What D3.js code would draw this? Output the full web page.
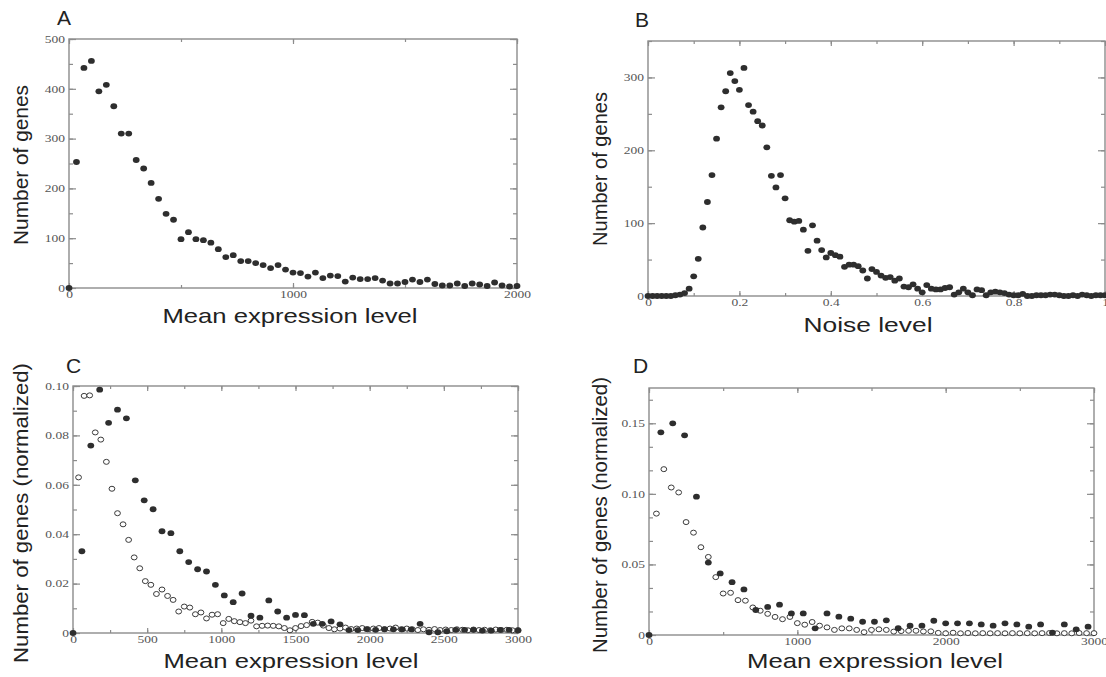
<!DOCTYPE html>
<html>
<head>
<meta charset="utf-8">
<script src="https://cdn.jsdelivr.net/npm/d3@7"></script>
<style>
body { margin: 0; background: #fff; }
svg { display: block; font-family: "Liberation Sans", Arial, sans-serif; }
.tick text { font-family: "Liberation Serif", "Times New Roman", serif; font-size: 10px; fill: #555; }
.tick line { stroke: #8c8c8c; stroke-width: 1.2; }
</style>
</head>
<body>
<div id="chart"></div>
<script>

// ---- panel A : mean expression, bins of 2000/60
const aStep = 2000 / 60;
const aCounts = [0, 253, 442, 456, 395, 408, 365, 310, 310, 257,
                 240, 211, 179, 149, 137, 98, 112, 98, 96, 91,
                 78, 62, 66, 54, 54, 50, 46, 40, 46, 37,
                 31, 30, 23, 31, 20, 25, 24, 13, 21, 18,
                 18, 20, 15, 9, 9, 12, 17, 12, 17, 8,
                 5, 5, 9, 4, 9, 7, 4, 11, 5, 3, 4];
const aXTicks = [0, 1000, 2000];
const aXLabels = ["0", "1000", "2000"];
const aYTicks = [0, 100, 200, 300, 400, 500];
const aYLabels = ["0", "100", "200", "300", "400", "500"];

// ---- panel B : noise level, bins of 0.01
const bStep = 0.01;
const bCounts = [0, 0, 0, 0, 0, 0, 1, 2, 4, 10,
                 27, 51, 94, 129, 166, 216, 259, 281, 306, 295,
                 283, 313, 262, 253, 240, 234, 204, 165, 149, 166,
                 134, 104, 102, 103, 91, 62, 97, 76, 63, 53,
                 59, 56, 54, 40, 43, 43, 41, 35, 24, 37,
                 33, 28, 25, 26, 21, 24, 13, 12, 16, 10,
                 5, 15, 10, 9, 9, 11, 12, 2, 5, 10,
                 5, 1, 9, 8, 1, 5, 6, 5, 4, 2,
                 1, 1, 3, 0, 0, 1, 1, 1, 2, 2,
                 1, 0, 0, 1, 0, 2, 1, 0, 1, 1, 1];
const bXTicks = [0, 0.2, 0.4, 0.6, 0.8, 1];
const bXLabels = ["0", "0.2", "0.4", "0.6", "0.8", "1"];
const bYTicks = [0, 100, 200, 300];
const bYLabels = ["0", "100", "200", "300"];

// ---- panel C : normalized, two groups
const cFilledStep = 60;
const cFilled = [0, 0.0331, 0.0759, 0.0985, 0.0851, 0.0904, 0.0869, 0.0618, 0.0537, 0.0501,
                 0.0412, 0.0404, 0.0331, 0.0287, 0.0258, 0.0249, 0.0195, 0.0152, 0.0125, 0.016,
                 0.007, 0.0062, 0.0132, 0.0087, 0.0062, 0.0073, 0.0072, 0.0037, 0.0037, 0.0047,
                 0.0035, 0.0012, 0.0012, 0.0016, 0.0013, 0.0015, 0.0015, 0.0015, 0.0015, 0.0037,
                 0.0003, 0.0003, 0.0007, 0.0013, 0.0013, 0.0013, 0.001, 0.001, 0.0013, 0.0013, 0.001];
const cOpenStep = 37.5;   // first open point sits at one step
const cOpen = [0.063, 0.096, 0.0962, 0.0812, 0.0783, 0.0693, 0.0584, 0.0485, 0.044, 0.0377,
               0.0306, 0.0262, 0.021, 0.0195, 0.0158, 0.0176, 0.015, 0.0134, 0.0087, 0.0107,
               0.0103, 0.0076, 0.0083, 0.0059, 0.0074, 0.0076, 0.004, 0.0057, 0.0048, 0.0044,
               0.004, 0.005, 0.0027, 0.0029, 0.003, 0.0029, 0.0027, 0.002, 0.0011, 0.002,
               0.0028, 0.0032, 0.0045, 0.0042, 0.003, 0.002, 0.0015, 0.0018, 0.0022, 0.0016,
               0.0018, 0.002, 0.0015, 0.0018, 0.002, 0.0016, 0.0018, 0.0022, 0.0015, 0.0018,
               0.0015, 0.0012, 0.0015, 0.0013, 0.0016, 0.0012, 0.0014, 0.0012, 0.0015, 0.0013,
               0.0011, 0.0014, 0.0012, 0.0013, 0.0011, 0.0014, 0.0012, 0.0013, 0.0011, 0.0012];
const cXTicks = [0, 500, 1000, 1500, 2000, 2500, 3000];
const cXLabels = ["0", "500", "1000", "1500", "2000", "2500", "3000"];
const cYTicks = [0, 0.02, 0.04, 0.06, 0.08, 0.1];
const cYLabels = ["0", "0.02", "0.04", "0.06", "0.08", "0.10"];

// ---- panel D : normalized, two groups
const dFilledStep = 80;
const dFilled = [0, 0.1436, 0.150, 0.1415, 0.098, 0.0513, 0.0436, 0.0374, 0.0323, 0.0177,
                 0.0199, 0.0215, 0.0153, 0.0153, 0.0047, 0.0153, 0.013, 0.0116, 0.0094, 0.0094,
                 0.0104, 0.0048, 0.0066, 0.0066, 0.0101, 0.0083, 0.0083, 0.0083, 0.0075, 0.0066,
                 0.0083, 0.0075, 0.0059, 0.0075, 0.0016, 0.0075, 0.004, 0.0059];
const dOpenStep = 50;
const dOpen = [0.086, 0.1175, 0.1045, 0.101, 0.080, 0.0725, 0.0622, 0.0553, 0.041, 0.0294,
               0.0299, 0.0247, 0.0243, 0.0195, 0.0172, 0.015, 0.0128, 0.0112, 0.0128, 0.0084,
               0.0073, 0.0092, 0.0066, 0.0054, 0.0036, 0.0047, 0.0047, 0.0036, 0.002, 0.0036,
               0.004, 0.0036, 0.0024, 0.0028, 0.003, 0.003, 0.0025, 0.0026, 0.0015, 0.0012,
               0.0016, 0.0012, 0.0014, 0.0012, 0.0013, 0.0012, 0.0013, 0.0012, 0.0013, 0.0012,
               0.0013, 0.0012, 0.0013, 0.0014, 0.0012, 0.0013, 0.0012, 0.0014, 0.0013, 0.0013];
const dXTicks = [0, 1000, 2000, 3000];
const dXLabels = ["0", "1000", "2000", "3000"];
const dYTicks = [0, 0.05, 0.1, 0.15];
const dYLabels = ["0", "0.05", "0.10", "0.15"];


const svg = d3.select('#chart')
  .append('svg')
  .attr('width', 1106)
  .attr('height', 677);

function noDomain(sel) { sel.select('.domain').remove(); }

function drawPanel(p) {
  const x = d3.scaleLinear().domain(p.xDomain).range([p.left, p.right]);
  const y = d3.scaleLinear().domain(p.yDomain).range([p.bottom, p.top]);
  const g = svg.append('g');

  // minor ticks, all four sides, pointing inward
  g.append('g').attr('transform', `translate(0,${p.bottom})`)
    .call(d3.axisBottom(x).tickValues(p.xMinor).tickSize(-3).tickFormat('')).call(noDomain);
  g.append('g').attr('transform', `translate(0,${p.top})`)
    .call(d3.axisTop(x).tickValues(p.xMinor).tickSize(-3).tickFormat('')).call(noDomain);
  g.append('g').attr('transform', `translate(${p.left},0)`)
    .call(d3.axisLeft(y).tickValues(p.yMinor).tickSize(-4).tickFormat('')).call(noDomain);
  g.append('g').attr('transform', `translate(${p.right},0)`)
    .call(d3.axisRight(y).tickValues(p.yMinor).tickSize(-4).tickFormat('')).call(noDomain);

  // major ticks, labels only bottom and left
  g.append('g').attr('transform', `translate(0,${p.bottom})`)
    .call(d3.axisBottom(x).tickValues(p.xTicks).tickSize(-5).tickPadding(3)
      .tickFormat((d, i) => p.xLabels[i])).call(noDomain);
  g.append('g').attr('transform', `translate(0,${p.top})`)
    .call(d3.axisTop(x).tickValues(p.xTicks).tickSize(-5).tickFormat('')).call(noDomain);
  g.append('g').attr('transform', `translate(${p.left},0)`)
    .call(d3.axisLeft(y).tickValues(p.yTicks).tickSize(-7).tickPadding(4)
      .tickFormat((d, i) => p.yLabels[i])).call(noDomain);
  g.append('g').attr('transform', `translate(${p.right},0)`)
    .call(d3.axisRight(y).tickValues(p.yTicks).tickSize(-7).tickFormat('')).call(noDomain);

  // frame
  g.append('rect')
    .attr('x', p.left).attr('y', p.top)
    .attr('width', p.right - p.left).attr('height', p.bottom - p.top)
    .attr('fill', 'none').attr('stroke', '#8c8c8c').attr('stroke-width', 1.4);

  // points (open ones first, filled on top)
  p.series.forEach(s => {
    g.append('g').selectAll('ellipse')
      .data(s.values)
      .join('ellipse')
      .attr('cx', (d, i) => x((i + s.start) * s.step))
      .attr('cy', d => y(d))
      .attr('rx', s.open ? 2.9 : 3.4)
      .attr('ry', s.open ? 2.5 : 2.9)
      .attr('fill', s.open ? '#fff' : '#2e2e2e')
      .attr('stroke', s.open ? '#3a3a3a' : 'none')
      .attr('stroke-width', 1);
  });

  // titles
  g.append('text')
    .attr('x', p.letter[0]).attr('y', p.letter[1])
    .style('font-size', '21px').attr('fill', '#222')
    .text(p.name);

  g.append('text')
    .attr('x', p.xTitlePos[0]).attr('y', p.xTitlePos[1])
    .attr('text-anchor', 'middle')
    .attr('textLength', p.xTitleLen).attr('lengthAdjust', 'spacingAndGlyphs')
    .style('font-size', '21px').attr('fill', '#222')
    .text(p.xTitle);

  g.append('text')
    .attr('transform', `translate(${p.yTitlePos[0]},${p.yTitlePos[1]}) rotate(-90)`)
    .attr('text-anchor', 'middle')
    .attr('textLength', p.yTitleLen).attr('lengthAdjust', 'spacingAndGlyphs')
    .style('font-size', '21px').attr('fill', '#222')
    .text(p.yTitle);
}

drawPanel({
  name: 'A', letter: [57, 25],
  left: 69, right: 517, top: 39, bottom: 288,
  xDomain: [0, 2000], yDomain: [0, 500],
  xTicks: aXTicks, xLabels: aXLabels, xMinor: d3.range(0, 2001, 500),
  yTicks: aYTicks, yLabels: aYLabels, yMinor: d3.range(0, 501, 50),
  series: [{ values: aCounts, step: aStep, start: 0, open: false }],
  xTitle: 'Mean expression level', xTitlePos: [290, 323], xTitleLen: 255,
  yTitle: 'Number of genes', yTitlePos: [28, 165], yTitleLen: 160
});

drawPanel({
  name: 'B', letter: [635, 27],
  left: 648, right: 1105, top: 41, bottom: 296,
  xDomain: [0, 1], yDomain: [0, 350],
  xTicks: bXTicks, xLabels: bXLabels, xMinor: d3.range(0, 1.001, 0.1),
  yTicks: bYTicks, yLabels: bYLabels, yMinor: d3.range(0, 351, 50),
  series: [{ values: bCounts, step: bStep, start: 0, open: false }],
  xTitle: 'Noise level', xTitlePos: [868, 332], xTitleLen: 129,
  yTitle: 'Number of genes', yTitlePos: [607, 169], yTitleLen: 154
});

drawPanel({
  name: 'C', letter: [66, 373],
  left: 73, right: 518, top: 386, bottom: 633,
  xDomain: [0, 3000], yDomain: [0, 0.1],
  xTicks: cXTicks, xLabels: cXLabels, xMinor: d3.range(0, 3001, 250),
  yTicks: cYTicks, yLabels: cYLabels, yMinor: d3.range(0, 0.1001, 0.01),
  series: [{ values: cOpen, step: cOpenStep, start: 1, open: true },
           { values: cFilled, step: cFilledStep, start: 0, open: false }],
  xTitle: 'Mean expression level', xTitlePos: [291, 668], xTitleLen: 255,
  yTitle: 'Number of genes (normalized)', yTitlePos: [28, 513], yTitleLen: 300
});

drawPanel({
  name: 'D', letter: [633, 373],
  left: 649, right: 1094, top: 388, bottom: 635,
  xDomain: [0, 3000], yDomain: [0, 0.175],
  xTicks: dXTicks, xLabels: dXLabels, xMinor: d3.range(0, 3001, 500),
  yTicks: dYTicks, yLabels: dYLabels, yMinor: d3.range(0, 0.175, 0.05 / 3),
  series: [{ values: dOpen, step: dOpenStep, start: 1, open: true },
           { values: dFilled, step: dFilledStep, start: 0, open: false }],
  xTitle: 'Mean expression level', xTitlePos: [875, 668], xTitleLen: 256,
  yTitle: 'Number of genes (normalized)', yTitlePos: [607, 515], yTitleLen: 276
});

// the tick numbers in the figure look stretched sideways
svg.selectAll('.tick text').each(function () {
  const w = this.getComputedTextLength();
  if (w > 0) {
    this.setAttribute('textLength', w * 1.35);
    this.setAttribute('lengthAdjust', 'spacingAndGlyphs');
  }
});
</script>
</body>
</html>
